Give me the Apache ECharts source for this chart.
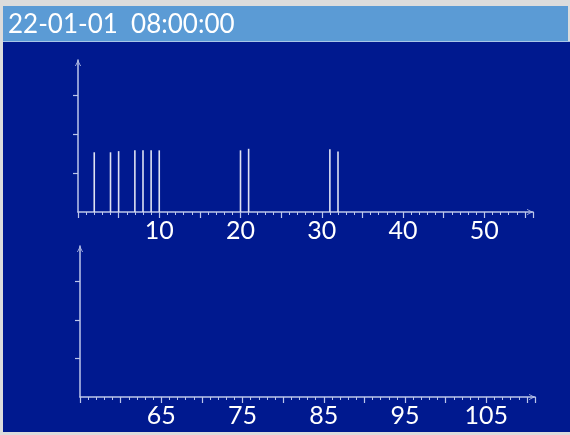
<!DOCTYPE html>
<html>
<head>
<meta charset="utf-8">
<script src="https://cdn.jsdelivr.net/npm/echarts@6/dist/echarts.min.js"></script>
<style>
html,body{margin:0;padding:0;}
#wrap{position:relative;width:570px;height:435px;background:#dcdcdc;overflow:hidden;}
#bar{position:absolute;left:3px;top:6px;width:565px;height:35px;background:#5b9bd5;}
#sep{position:absolute;left:3px;top:41px;width:567px;height:1px;background:#a8c6e8;}
#panel{position:absolute;left:3px;top:42px;width:567px;height:390px;background:#00198f;}
#chart{position:absolute;left:0;top:0;width:570px;height:435px;}
</style>
</head>
<body>
<div id="wrap">
  <div id="bar"></div>
  <div id="sep"></div>
  <div id="panel"></div>
  <div id="chart"></div>
</div>
<script>
var titleText = '22-01-01  08:00:00';
var topX = [2, 4, 5, 7, 8, 9, 10, 20, 21, 31, 32];
var topY = [1.54, 1.54, 1.57, 1.59, 1.59, 1.59, 1.59, 1.59, 1.63, 1.62, 1.56];
var bottomX = [];
var bottomY = [];
var topTickLabels = [10, 20, 30, 40, 50];
var bottomTickLabels = [65, 75, 85, 95, 105];

var axisColor = '#bcc6ea';
var arrowPath = 'path://M0,10 L5,0 L10,10 L8.6,10 L5,2.6 L1.4,10 Z';

function pairs(xs, ys) {
  return xs.map(function (x, i) { return [x, ys[i]]; });
}

function xAxisCfg(idx, min, max, labels) {
  return {
    type: 'value', gridIndex: idx, min: min, max: max, interval: 5,
    axisLine: { show: true, lineStyle: { color: axisColor, width: 1.5 },
      symbol: ['none', arrowPath], symbolSize: [8, 6], symbolOffset: [0, -3] },
    axisTick: { show: true, length: 6, lineStyle: { color: axisColor, width: 1.2 } },
    minorTick: { show: true, splitNumber: 5, length: 3, lineStyle: { color: axisColor, width: 1 } },
    splitLine: { show: false },
    axisLabel: {
      show: true, margin: 6, color: '#ffffff', fontFamily: 'Lato', fontSize: 25,
      formatter: function (v) { return labels.indexOf(v) >= 0 ? String(v) : ''; }
    }
  };
}

function yAxisCfg(idx) {
  return {
    type: 'value', gridIndex: idx, min: 0, max: 3.92, interval: 1,
    axisLine: { show: true, lineStyle: { color: axisColor, width: 1.5 },
      symbol: ['none', arrowPath], symbolSize: [9, 6], symbolOffset: [0, -3] },
    axisTick: { show: true, length: 5, customValues: [1, 2, 3], lineStyle: { color: axisColor, width: 1.2 } },
    splitLine: { show: false },
    axisLabel: { show: false }
  };
}

var chart = echarts.init(document.getElementById('chart'), null, { renderer: 'canvas' });
chart.setOption({
  backgroundColor: 'transparent',
  animation: false,
  title: {
    text: titleText, left: 3, top: 7,
    textStyle: { color: '#ffffff', fontFamily: 'Lato', fontSize: 26, fontWeight: 'normal' }
  },
  grid: [
    { left: 78, top: 60, width: 455, height: 152 },
    { left: 80, top: 246, width: 455, height: 151 }
  ],
  xAxis: [
    xAxisCfg(0, 0, 56, topTickLabels),
    xAxisCfg(1, 55, 111, bottomTickLabels)
  ],
  yAxis: [yAxisCfg(0), yAxisCfg(1)],
  series: [
    { type: 'bar', xAxisIndex: 0, yAxisIndex: 0, barWidth: 1.6,
      itemStyle: { color: '#dfe2f2' }, data: pairs(topX, topY) },
    { type: 'bar', xAxisIndex: 1, yAxisIndex: 1, barWidth: 1.6,
      itemStyle: { color: '#dfe2f2' }, data: pairs(bottomX, bottomY) }
  ]
});
</script>
</body>
</html>
